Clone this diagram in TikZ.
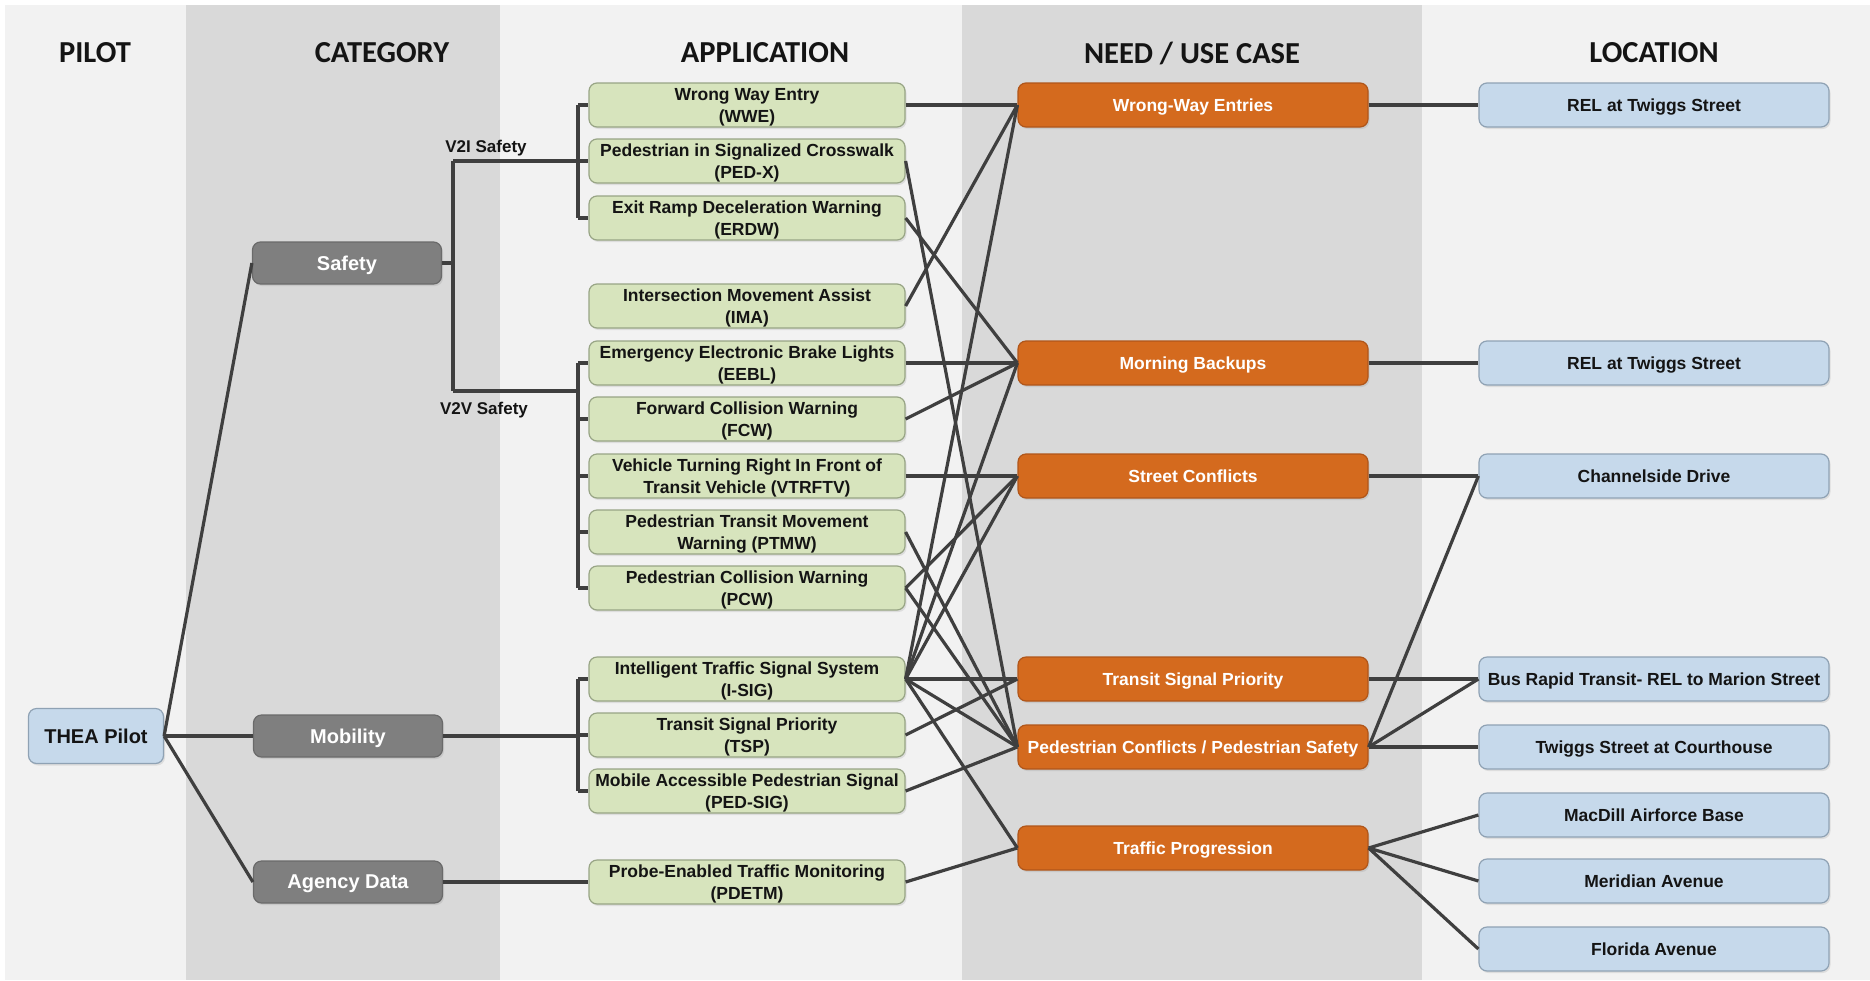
\documentclass[tikz,border=0pt]{standalone}
\usepackage{fontspec}
\setmainfont{Liberation Sans}
\newfontfamily\headfont{Carlito}
\usetikzlibrary{shadows}
\definecolor{bgc}{HTML}{F2F2F2}
\definecolor{colc}{HTML}{D9D9D9}
\definecolor{appfill}{HTML}{D7E4BD}
\definecolor{appdraw}{HTML}{98A585}
\definecolor{needfill}{HTML}{D46A1E}
\definecolor{needdraw}{HTML}{B0561A}
\definecolor{locfill}{HTML}{C6D9EB}
\definecolor{locdraw}{HTML}{8FA2B4}
\definecolor{catfill}{HTML}{7F7F7F}
\definecolor{catdraw}{HTML}{6A6A6A}
\definecolor{linec}{HTML}{3F3F3F}
\definecolor{txt}{HTML}{141414}
\tikzset{
  box/.style={rounded corners=8pt, minimum height=44pt, align=center, inner sep=0pt,
    line width=1.2pt, text depth=0pt, font=\bfseries\fontsize{17.5}{22}\selectfont,
    drop shadow={opacity=0.18, shadow xshift=1.5pt, shadow yshift=-2pt}},
  app/.style={box, fill=appfill, draw=appdraw, minimum width=316pt, text=txt},
  need/.style={box, fill=needfill, draw=needdraw, minimum width=350pt, text=white},
  loc/.style={box, fill=locfill, draw=locdraw, minimum width=350pt, text=txt},
  cat/.style={box, fill=catfill, draw=catdraw, minimum width=189pt, minimum height=42pt,
    text=white, font=\bfseries\fontsize{20}{24}\selectfont},
  pilot/.style={box, fill=locfill, draw=locdraw, minimum width=135pt, minimum height=55pt,
    text=txt, font=\bfseries\fontsize{20}{24}\selectfont},
  head/.style={font=\headfont\bfseries\fontsize{30.5}{36}\selectfont, text=txt},
  sublab/.style={font=\bfseries\fontsize{17}{20}\selectfont, text=txt},
  link/.style={draw=linec, line width=3.2pt},
}
\begin{document}
\begin{tikzpicture}[x=1pt,y=-1pt]
\useasboundingbox (0,0) rectangle (1870,980);
\fill[white] (0,0) rectangle (1870,980);
\fill[bgc] (5,5) rectangle (1870,980);
\fill[colc] (186,5) rectangle (500,980);
\fill[colc] (962,5) rectangle (1422,980);

% headers
\node[head] (hpilot) at (95,53) {PILOT};
\node[head] (hcat) at (382,53) {CATEGORY};
\node[head] (happ) at (765,53) {APPLICATION};
\node[head] (hneed) at (1192,53) {NEED / USE CASE};
\node[head] (hloc) at (1654,53) {LOCATION};

% pilot and categories
\node[pilot] (thea) at (96,736) {THEA Pilot};
\node[cat] (safety) at (347,263) {Safety};
\node[cat] (mobility) at (348,736) {Mobility};
\node[cat] (agency) at (348,882) {Agency Data};

% applications
\node[app] (wwe) at (747,105) {Wrong Way Entry\\(WWE)};
\node[app] (pedx) at (747,161) {Pedestrian in Signalized Crosswalk\\(PED-X)};
\node[app] (erdw) at (747,218) {Exit Ramp Deceleration Warning\\(ERDW)};
\node[app] (ima) at (747,306) {Intersection Movement Assist\\(IMA)};
\node[app] (eebl) at (747,363) {Emergency Electronic Brake Lights\\(EEBL)};
\node[app] (fcw) at (747,419) {Forward Collision Warning\\(FCW)};
\node[app] (vtrftv) at (747,476) {Vehicle Turning Right In Front of\\Transit Vehicle (VTRFTV)};
\node[app] (ptmw) at (747,532) {Pedestrian Transit Movement\\Warning (PTMW)};
\node[app] (pcw) at (747,588) {Pedestrian Collision Warning\\(PCW)};
\node[app] (isig) at (747,679) {Intelligent Traffic Signal System\\(I-SIG)};
\node[app] (tspa) at (747,735) {Transit Signal Priority\\(TSP)};
\node[app] (pedsig) at (747,791) {Mobile Accessible Pedestrian Signal\\(PED-SIG)};
\node[app] (pdetm) at (747,882) {Probe-Enabled Traffic Monitoring\\(PDETM)};

% needs
\node[need] (nwwe) at (1193,105) {Wrong-Way Entries};
\node[need] (nmb) at (1193,363) {Morning Backups};
\node[need] (nsc) at (1193,476) {Street Conflicts};
\node[need] (ntsp) at (1193,679) {Transit Signal Priority};
\node[need] (nped) at (1193,747) {Pedestrian Conflicts / Pedestrian Safety};
\node[need] (ntp) at (1193,848) {Traffic Progression};

% locations
\node[loc] (l1) at (1654,105) {REL at Twiggs Street};
\node[loc] (l2) at (1654,363) {REL at Twiggs Street};
\node[loc] (l3) at (1654,476) {Channelside Drive};
\node[loc] (l4) at (1654,679) {Bus Rapid Transit- REL to Marion Street};
\node[loc] (l5) at (1654,747) {Twiggs Street at Courthouse};
\node[loc] (l6) at (1654,815) {MacDill Airforce Base};
\node[loc] (l7) at (1654,881) {Meridian Avenue};
\node[loc] (l8) at (1654,949) {Florida Avenue};

% tree junctions
\coordinate (v2i) at (453,161);
\coordinate (v2v) at (453,391);
\coordinate (b1) at (578,161);
\coordinate (b2) at (578,391);
\coordinate (b3) at (578,736);
\node[sublab, anchor=south] (v2ilab) at (486,160) {V2I Safety};
\node[sublab, anchor=north] (v2vlab) at (484,399) {V2V Safety};

% pilot to categories
\draw[link] (thea.east) -- (safety.west);
\draw[link] (thea.east) -- (mobility.west);
\draw[link] (thea.east) -- (agency.west);

% safety tree
\draw[link] (safety.east) -- (safety.east -| v2i);
\draw[link] (v2i) -- (v2v);
\draw[link] (v2i) -- (b1);
\draw[link] (v2v) -- (b2);
\draw[link] (wwe.west -| b1) -- (erdw.west -| b1);
\draw[link] (eebl.west -| b2) -- (pcw.west -| b2);
\foreach \a in {wwe,pedx,erdw}{\draw[link] (\a.west -| b1) -- (\a.west);}
\foreach \a in {eebl,fcw,vtrftv,ptmw,pcw}{\draw[link] (\a.west -| b2) -- (\a.west);}
% mobility tree
\draw[link] (mobility.east) -- (b3);
\draw[link] (isig.west -| b3) -- (pedsig.west -| b3);
\foreach \a in {isig,tspa,pedsig}{\draw[link] (\a.west -| b3) -- (\a.west);}
% agency
\draw[link] (agency.east) -- (pdetm.west);

% applications to needs
\draw[link] (wwe.east) -- (nwwe.west);
\draw[link] (ima.east) -- (nwwe.west);
\draw[link] (isig.east) -- (nwwe.west);
\draw[link] (erdw.east) -- (nmb.west);
\draw[link] (eebl.east) -- (nmb.west);
\draw[link] (fcw.east) -- (nmb.west);
\draw[link] (isig.east) -- (nmb.west);
\draw[link] (vtrftv.east) -- (nsc.west);
\draw[link] (pcw.east) -- (nsc.west);
\draw[link] (isig.east) -- (nsc.west);
\draw[link] (isig.east) -- (ntsp.west);
\draw[link] (tspa.east) -- (ntsp.west);
\draw[link] (pedx.east) -- (nped.west);
\draw[link] (ptmw.east) -- (nped.west);
\draw[link] (pcw.east) -- (nped.west);
\draw[link] (isig.east) -- (nped.west);
\draw[link] (pedsig.east) -- (nped.west);
\draw[link] (isig.east) -- (ntp.west);
\draw[link] (pdetm.east) -- (ntp.west);

% needs to locations
\draw[link] (nwwe.east) -- (l1.west);
\draw[link] (nmb.east) -- (l2.west);
\draw[link] (nsc.east) -- (l3.west);
\draw[link] (ntsp.east) -- (l4.west);
\draw[link] (nped.east) -- (l3.west);
\draw[link] (nped.east) -- (l4.west);
\draw[link] (nped.east) -- (l5.west);
\draw[link] (ntp.east) -- (l6.west);
\draw[link] (ntp.east) -- (l7.west);
\draw[link] (ntp.east) -- (l8.west);
\end{tikzpicture}
\end{document}
